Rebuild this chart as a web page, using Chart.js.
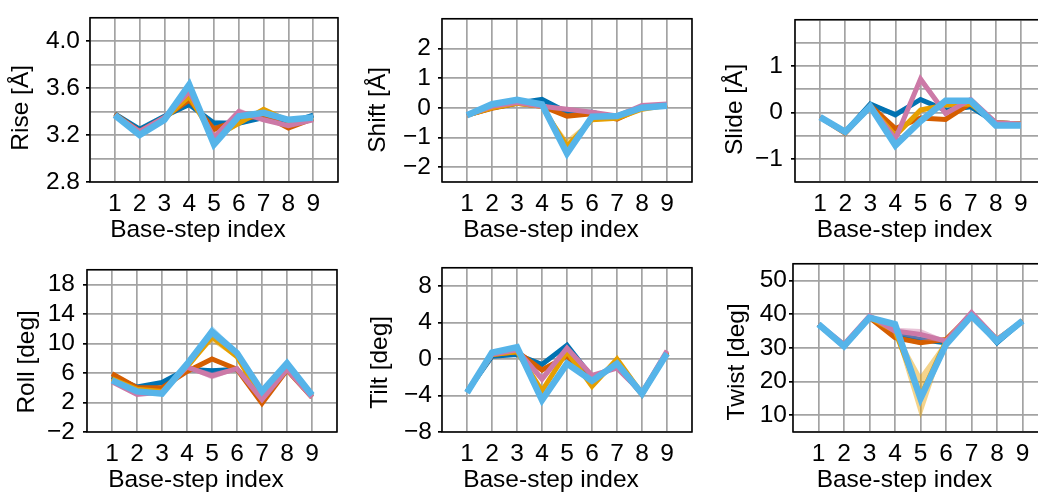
<!DOCTYPE html>
<html>
<head>
<meta charset="utf-8">
<title>Base-step parameters</title>
<script src="https://cdn.jsdelivr.net/npm/chart.js@4.4.1/dist/chart.umd.min.js"></script>
<style>
	html, body { margin: 0; padding: 0; background: #fff; }
	#fig { position: relative; width: 1038px; height: 493px; overflow: hidden; background: #fff; }
	#fig canvas { position: absolute; }
</style>
</head>
<body>
<div id="fig"></div>
<script>
// base-step positions on the x axis
const steps = [1, 2, 3, 4, 5, 6, 7, 8, 9];
const xTickLabels = ['1', '2', '3', '4', '5', '6', '7', '8', '9'];

// one row per series: blue, vermillion, orange, pink, sky blue
const seriesColors = ['#0072B2', '#D55E00', '#E69F00', '#CC79A7', '#56B4E9'];

const riseMean = [
	[3.38, 3.25, 3.36, 3.46, 3.30, 3.30, 3.35, 3.30, 3.37],
	[3.38, 3.23, 3.35, 3.50, 3.25, 3.33, 3.37, 3.26, 3.34],
	[3.37, 3.22, 3.34, 3.53, 3.18, 3.30, 3.42, 3.32, 3.34],
	[3.37, 3.23, 3.35, 3.57, 3.18, 3.40, 3.33, 3.28, 3.33],
	[3.37, 3.20, 3.33, 3.63, 3.12, 3.36, 3.39, 3.33, 3.35]
];
const riseSd = [
	[0.01, 0.01, 0.01, 0.02, 0.03, 0.02, 0.01, 0.01, 0.01],
	[0.01, 0.01, 0.01, 0.02, 0.03, 0.01, 0.01, 0.01, 0.01],
	[0.01, 0.01, 0.01, 0.03, 0.03, 0.02, 0.02, 0.01, 0.01],
	[0.01, 0.01, 0.01, 0.02, 0.03, 0.03, 0.01, 0.01, 0.01],
	[0.01, 0.01, 0.01, 0.02, 0.02, 0.02, 0.01, 0.01, 0.01]
];

const shiftMean = [
	[-0.25, 0.00, 0.15, 0.28, -0.15, -0.15, -0.35, 0.00, 0.10],
	[-0.25, -0.02, 0.15, 0.05, -0.28, -0.20, -0.38, 0.00, 0.10],
	[-0.25, 0.00, 0.15, 0.05, -1.30, -0.40, -0.35, -0.05, 0.08],
	[-0.25, 0.05, 0.18, 0.05, -0.05, -0.15, -0.28, 0.08, 0.13],
	[-0.25, 0.12, 0.27, 0.11, -1.54, -0.30, -0.28, 0.00, 0.07]
];
const shiftSd = [
	[0.02, 0.02, 0.02, 0.04, 0.04, 0.03, 0.02, 0.02, 0.02],
	[0.02, 0.02, 0.02, 0.03, 0.04, 0.03, 0.02, 0.02, 0.02],
	[0.02, 0.02, 0.02, 0.03, 0.25, 0.04, 0.02, 0.02, 0.02],
	[0.02, 0.02, 0.02, 0.03, 0.05, 0.03, 0.02, 0.02, 0.02],
	[0.02, 0.02, 0.02, 0.03, 0.05, 0.03, 0.02, 0.02, 0.02]
];

const slideMean = [
	[-0.10, -0.42, 0.18, -0.05, 0.28, 0.05, 0.12, -0.22, -0.25],
	[-0.10, -0.45, 0.15, -0.35, -0.12, -0.15, 0.20, -0.22, -0.25],
	[-0.10, -0.42, 0.12, -0.50, 0.05, 0.16, 0.18, -0.22, -0.25],
	[-0.10, -0.42, 0.12, -0.57, 0.72, -0.02, 0.28, -0.22, -0.25],
	[-0.10, -0.42, 0.13, -0.71, -0.19, 0.25, 0.25, -0.28, -0.28]
];
const slideSd = [
	[0.01, 0.01, 0.02, 0.07, 0.04, 0.03, 0.02, 0.01, 0.01],
	[0.01, 0.01, 0.02, 0.04, 0.04, 0.03, 0.02, 0.01, 0.01],
	[0.01, 0.01, 0.02, 0.05, 0.06, 0.04, 0.02, 0.01, 0.01],
	[0.01, 0.01, 0.02, 0.05, 0.10, 0.04, 0.02, 0.01, 0.01],
	[0.01, 0.01, 0.02, 0.04, 0.04, 0.06, 0.02, 0.01, 0.01]
];

const rollMean = [
	[5.5, 4.1, 4.7, 6.5, 6.3, 6.5, 2.8, 6.8, 2.8],
	[5.9, 4.0, 4.0, 6.2, 7.9, 6.5, 1.9, 6.4, 2.7],
	[5.2, 3.8, 3.5, 6.8, 10.9, 8.2, 2.5, 6.8, 3.0],
	[4.8, 3.1, 3.4, 6.8, 5.6, 6.6, 2.4, 6.5, 2.7],
	[5.0, 3.5, 3.2, 7.2, 11.6, 8.7, 3.5, 7.3, 3.0]
];
const rollSd = [
	[0.15, 0.15, 0.15, 0.2, 0.3, 0.2, 0.2, 0.15, 0.15],
	[0.15, 0.15, 0.15, 0.2, 0.3, 0.2, 0.2, 0.15, 0.15],
	[0.15, 0.15, 0.2, 0.2, 0.7, 0.3, 0.2, 0.15, 0.15],
	[0.15, 0.15, 0.15, 0.2, 0.5, 0.2, 0.2, 0.15, 0.15],
	[0.15, 0.15, 0.2, 0.2, 0.8, 0.4, 0.3, 0.2, 0.15]
];

const tiltMean = [
	[-3.6, 0.3, 0.5, -0.6, 1.5, -2.0, -0.8, -3.8, 0.7],
	[-3.6, 0.5, 0.8, -1.2, 0.3, -2.5, -0.5, -3.9, 0.7],
	[-3.6, 0.5, 0.8, -3.5, 0.8, -3.0, 0.0, -3.8, 0.7],
	[-3.6, 0.5, 1.0, -2.2, 1.2, -1.8, -1.0, -3.7, 0.9],
	[-3.7, 0.7, 1.3, -4.5, -0.5, -2.4, -0.5, -3.8, 0.6]
];
const tiltSd = [
	[0.1, 0.1, 0.1, 0.3, 0.2, 0.15, 0.15, 0.1, 0.1],
	[0.1, 0.1, 0.1, 0.3, 0.2, 0.15, 0.15, 0.1, 0.1],
	[0.1, 0.1, 0.1, 0.4, 0.2, 0.2, 0.15, 0.1, 0.1],
	[0.1, 0.1, 0.1, 0.5, 0.2, 0.15, 0.15, 0.1, 0.1],
	[0.1, 0.1, 0.1, 0.2, 0.2, 0.15, 0.15, 0.1, 0.1]
];

const twistMean = [
	[37, 30.5, 39, 34, 32.5, 31.5, 40, 31.5, 38],
	[37, 30.5, 39, 33, 31.5, 32.5, 40, 32, 38],
	[37, 30.5, 39, 35, 15.5, 32, 40, 32.5, 38],
	[37, 31, 39.5, 35, 34, 32, 40.5, 32.5, 38],
	[37, 30.5, 39, 37, 15, 31, 39.5, 32, 38]
];
const twistSd = [
	[0.3, 0.3, 0.3, 0.6, 0.6, 0.4, 0.3, 0.3, 0.3],
	[0.3, 0.3, 0.3, 0.6, 0.6, 0.4, 0.3, 0.3, 0.3],
	[0.3, 0.3, 0.3, 0.8, 6.5, 0.5, 0.3, 0.3, 0.3],
	[0.3, 0.3, 0.3, 1.0, 1.6, 0.4, 0.3, 0.3, 0.3],
	[0.3, 0.3, 0.3, 0.6, 1.5, 0.4, 0.3, 0.3, 0.3]
];

// y gridline values and the ones that carry a label
const riseGrid = [2.8, 3.0, 3.2, 3.4, 3.6, 3.8, 4.0, 4.2];
const riseLabels = [2.8, 3.2, 3.6, 4.0];
const shiftGrid = [-2.5, -2, -1, 0, 1, 2, 3];
const shiftLabels = [-2, -1, 0, 1, 2];
const slideGrid = [-1.5, -1, -0.5, 0, 0.5, 1, 1.5, 2];
const slideLabels = [-1, 0, 1];
const rollGrid = [-2, 2, 6, 10, 14, 18, 20];
const rollLabels = [-2, 2, 6, 10, 14, 18];
const tiltGrid = [-8, -4, 0, 4, 8, 10];
const tiltLabels = [-8, -4, 0, 4, 8];
const twistGrid = [5, 10, 20, 30, 40, 50, 55];
const twistLabels = [10, 20, 30, 40, 50];

const FONT = { family: "'Liberation Sans', Arial, Helvetica, sans-serif", size: 24.5, lineHeight: 1.2 };
const PT = 16, PR = 16, XH = 62;

function rgba(hex, a) {
	const n = parseInt(hex.slice(1), 16);
	return 'rgba(' + (n >> 16) + ',' + ((n >> 8) & 255) + ',' + (n & 255) + ',' + a + ')';
}

function isLabel(v, list) {
	return list.some(function (l) { return Math.abs(l - v) < 1e-6; });
}

function fmtNum(v, dec) {
	var s = v.toFixed(dec);
	return v < 0 ? '\u2212' + s.slice(1) : s;
}

// black box round the plot area
const frame = {
	id: 'frame',
	afterDatasetsDraw(chart) {
		const { ctx, chartArea: { left, top, right, bottom } } = chart;
		ctx.save();
		ctx.strokeStyle = '#000';
		ctx.lineWidth = 1.5;
		ctx.strokeRect(left, top, right - left, bottom - top);
		ctx.restore();
	}
};

// axis titles, placed like the original (a little off the plot centre)
const axisTitles = {
	id: 'axisTitles',
	afterDraw(chart, args, o) {
		const { ctx, chartArea: { left, top, right, bottom } } = chart;
		ctx.save();
		ctx.fillStyle = '#000';
		ctx.font = FONT.size + 'px ' + FONT.family;
		ctx.textAlign = 'center';
		ctx.textBaseline = 'middle';
		ctx.fillText(o.xText, (left + right) / 2 + o.dx, bottom + o.xOff);
		ctx.translate(left - o.yOff, (top + bottom) / 2 + o.dy);
		ctx.rotate(-Math.PI / 2);
		ctx.fillText(o.yText, 0, 0);
		ctx.restore();
	}
};

const panels = [
	{ title: 'Rise [\u00C5]', mean: riseMean, sd: riseSd, grid: riseGrid, labels: riseLabels, dec: 1, l: 90, t: 13, r: 338, b: 182, titleOff: 69, titleDy: 8, tickPad: 6 },
	{ title: 'Shift [\u00C5]', mean: shiftMean, sd: shiftSd, grid: shiftGrid, labels: shiftLabels, dec: 0, l: 442, t: 13, r: 692, b: 182, titleOff: 64, titleDy: 9.5, tickPad: 7 },
	{ title: 'Slide [\u00C5]', mean: slideMean, sd: slideSd, grid: slideGrid, labels: slideLabels, dec: 0, l: 795, t: 13, r: 1046, b: 182, titleOff: 60, titleDy: 8.5, tickPad: 8 },
	{ title: 'Roll [deg]', mean: rollMean, sd: rollSd, grid: rollGrid, labels: rollLabels, dec: 0, l: 87, t: 263, r: 337, b: 432, titleOff: 60, titleDy: 11, tickPad: 8 },
	{ title: 'Tilt [deg]', mean: tiltMean, sd: tiltSd, grid: tiltGrid, labels: tiltLabels, dec: 0, l: 442, t: 263, r: 692, b: 432, titleOff: 62, titleDy: 12.5, tickPad: 6 },
	{ title: 'Twist [deg]', mean: twistMean, sd: twistSd, grid: twistGrid, labels: twistLabels, dec: 0, l: 793, t: 263, r: 1048, b: 432, titleOff: 56, titleDy: 14, tickPad: 2 }
];

function buildDatasets(p) {
	var ds = [], seq = 0;
	p.mean.forEach(function (row, i) {
		var col = seriesColors[i];
		var upper = row.map(function (m, k) { return { x: steps[k], y: m + p.sd[i][k] }; });
		var lower = row.map(function (m, k) { return { x: steps[k], y: m - p.sd[i][k] }; });
		var upIdx = ds.length;
		ds.push({ data: upper, borderWidth: 0, pointRadius: 0, fill: false, order: 1000 - seq++ });
		ds.push({ data: lower, borderWidth: 0, pointRadius: 0, fill: upIdx, backgroundColor: rgba(col, 0.45), order: 1000 - seq++ });
		ds.push({
			data: row.map(function (m, k) { return { x: steps[k], y: m }; }),
			borderColor: col, borderWidth: i === 4 ? 6.5 : 5, borderJoinStyle: 'miter',
			pointRadius: 0, fill: false, tension: 0, order: 1000 - seq++
		});
	});
	return ds;
}

function makePanel(p) {
	var canvasLeft = Math.round(p.l - p.titleOff - FONT.size * FONT.lineHeight / 2);
	var yw = p.l - canvasLeft;
	var cv = document.createElement('canvas');
	cv.width = Math.round(yw + (p.r - p.l) + PR);
	cv.height = PT + (p.b - p.t) + XH;
	cv.style.left = canvasLeft + 'px';
	cv.style.top = (p.t - PT) + 'px';
	document.getElementById('fig').appendChild(cv);

	var gridColor = '#a3a3a3';

	return new Chart(cv.getContext('2d'), {
		type: 'line',
		data: { datasets: buildDatasets(p) },
		options: {
			responsive: false,
			animation: false,
			devicePixelRatio: 1,
			layout: { padding: { left: 0, top: PT, right: PR, bottom: 0 } },
			plugins: {
				legend: { display: false },
				tooltip: { enabled: false },
				axisTitles: { xText: 'Base-step index', yText: p.title, dx: -16, xOff: 48, yOff: p.titleOff, dy: p.titleDy }
			},
			scales: {
				x: {
					type: 'linear', min: 0, max: 10,
					afterFit: function (s) { s.height = XH; },
					ticks: {
						stepSize: 1, autoSkip: false, maxRotation: 0, padding: 8,
						color: '#000', font: FONT,
						callback: function (v) { return (v >= 1 && v <= 9) ? xTickLabels[v - 1] : ''; }
					},
					grid: { color: gridColor, lineWidth: 1.7, drawTicks: false },
					border: { display: false }
				},
				y: {
					type: 'linear', min: p.grid[0], max: p.grid[p.grid.length - 1],
					afterFit: function (s) { s.width = yw; },
					afterBuildTicks: function (s) { s.ticks = p.grid.map(function (v) { return { value: v }; }); },
					ticks: {
						autoSkip: false, padding: p.tickPad, color: '#000', font: FONT,
						callback: function (v) { return isLabel(v, p.labels) ? fmtNum(v, p.dec) : ''; }
					},
					grid: {
						color: gridColor, lineWidth: 1.7, drawTicks: true, tickLength: 4,
						tickColor: function (c) { return (c.tick && isLabel(c.tick.value, p.labels)) ? '#000' : 'rgba(0,0,0,0)'; }
					},
					border: { display: false }
				}
			}
		},
		plugins: [frame, axisTitles]
	});
}

panels.forEach(makePanel);
</script>
</body>
</html>
